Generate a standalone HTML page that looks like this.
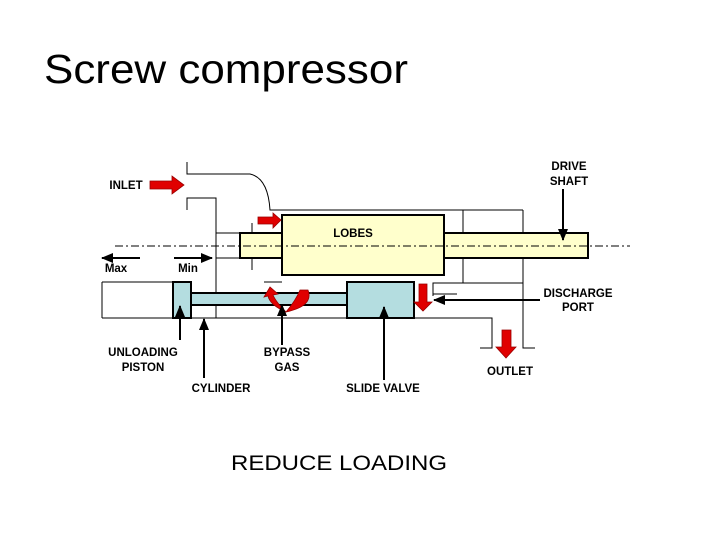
<!DOCTYPE html>
<html><head><style>html,body{margin:0;padding:0;background:#fff}svg{display:block}</style></head>
<body>
<svg width="720" height="540" viewBox="0 0 720 540" xmlns="http://www.w3.org/2000/svg" font-family="Liberation Sans, Arial, sans-serif">
<defs>
<marker id="ah" markerWidth="8" markerHeight="8" refX="7" refY="4" orient="auto" markerUnits="userSpaceOnUse">
<path d="M0,0 L8,4 L0,8 z" fill="#000"/></marker>
<marker id="ah2" markerWidth="12" markerHeight="10" refX="11" refY="5" orient="auto" markerUnits="userSpaceOnUse">
<path d="M0,0 L12,5 L0,10 z" fill="#000"/></marker>
</defs>
<text x="44" y="83" font-size="41" textLength="364" lengthAdjust="spacingAndGlyphs">Screw compressor</text>

<g stroke="#000" stroke-width="1" fill="none">
<!-- inlet duct -->
<path d="M187,162 V174 H250 Q268,178 270,210 H523"/>
<path d="M187,210 V198 H216 V318"/>
<path d="M216,233 H240 M216,258 H240"/>
<path d="M252,223 V270"/>
<path d="M463,210 V283 H523 M523,210 V348 H535"/>
<path d="M433,296 V283 H463 M433,294 H457"/>
<path d="M102,318 H492 V348 H480"/>
<path d="M264,282 H282"/>
<path d="M102,282 H173 M102,282 V318"/>
<path d="M216,305 V318"/>
</g>
<!-- shaft & lobes -->
<rect x="240" y="233" width="42" height="25" fill="#ffffcc" stroke="#000" stroke-width="2"/>
<rect x="444" y="233" width="144" height="25" fill="#ffffcc" stroke="#000" stroke-width="2"/>
<rect x="282" y="215" width="162" height="60" fill="#ffffcc" stroke="#000" stroke-width="2"/>
<line x1="115" y1="246" x2="630" y2="246" stroke="#000" stroke-width="1" stroke-dasharray="8,3,2,3"/>
<!-- lower -->
<rect x="191" y="293" width="156" height="12" fill="#b4dde0" stroke="#000" stroke-width="2"/>
<rect x="173" y="282" width="18" height="36" fill="#b4dde0" stroke="#000" stroke-width="2"/>
<rect x="347" y="282" width="67" height="36" fill="#b4dde0" stroke="#000" stroke-width="2"/>
<!-- red arrows -->
<g fill="#e00000" stroke="#900" stroke-width="0.8">
<path d="M150,181 H172 V176 L184,185 L172,194 V189 H150 z"/>
<path d="M258,217 H273 V213 L281,220 L273,228 V224 H258 z"/>
<path d="M419,284 H427 V302 H432 L423,311 L414,302 H419 z"/>
<path d="M502,330 H511 V347 H516 L506,358 L496,347 H502 z"/>
<path d="M308,290 Q314,306 286,312 Q296,300 300,290 z"/>
<path d="M286,312 Q270,305 268,296 L264,297 L270,287 L278,294 L273,295 Q276,302 286,312 z"/>
</g>
<!-- black pointer arrows -->
<g stroke="#000" stroke-width="2" fill="none">
<line x1="563" y1="189" x2="563" y2="240" marker-end="url(#ah2)"/>
<line x1="540" y1="300" x2="434" y2="300" marker-end="url(#ah2)"/>
<line x1="140" y1="258" x2="102" y2="258" marker-end="url(#ah2)"/>
<line x1="174" y1="258" x2="212" y2="258" marker-end="url(#ah2)"/>
<line x1="180" y1="340" x2="180" y2="306" marker-end="url(#ah2)"/>
<line x1="204" y1="378" x2="204" y2="319" marker-end="url(#ah2)"/>
<line x1="282" y1="345" x2="282" y2="305" marker-end="url(#ah2)"/>
<line x1="384" y1="380" x2="384" y2="307" marker-end="url(#ah2)"/>
</g>
<g font-size="11.5" font-weight="bold" fill="#000" text-anchor="middle">
<text x="126" y="189">INLET</text>
<text x="569" y="170">DRIVE</text>
<text x="569" y="185">SHAFT</text>
<text x="353" y="237">LOBES</text>
<text x="116" y="272">Max</text>
<text x="188" y="272">Min</text>
<text x="578" y="297">DISCHARGE</text>
<text x="578" y="311">PORT</text>
<text x="143" y="356">UNLOADING</text>
<text x="143" y="371">PISTON</text>
<text x="287" y="356">BYPASS</text>
<text x="287" y="371">GAS</text>
<text x="510" y="375">OUTLET</text>
<text x="221" y="392">CYLINDER</text>
<text x="383" y="392">SLIDE VALVE</text>
</g>
<text x="339" y="470" font-size="21" text-anchor="middle" textLength="216" lengthAdjust="spacingAndGlyphs">REDUCE LOADING</text>
</svg>
</body></html>
